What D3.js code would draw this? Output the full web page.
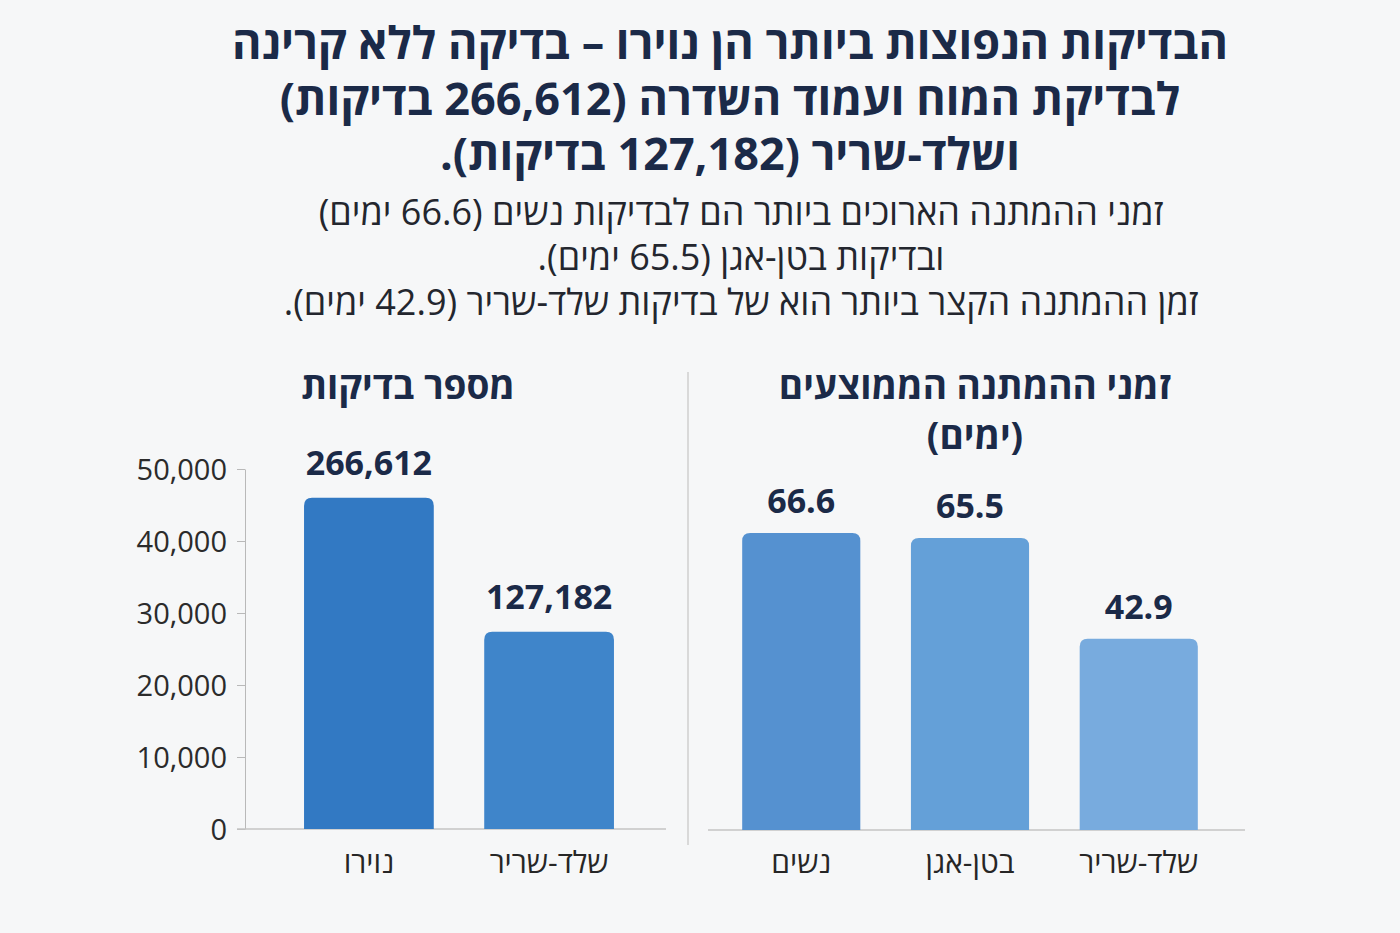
<!DOCTYPE html>
<html>
<head>
<meta charset="utf-8">
<script src="https://cdn.jsdelivr.net/npm/d3@7"></script>
<style>
  body { margin: 0; background: #f6f7f8; }
  svg { display: block; font-family: "Open Sans", "DejaVu Sans", sans-serif; }
  .he { direction: rtl; unicode-bidi: embed; }
  .axis text { font-size: 29px; font-weight: 500; fill: #2b2b2b; font-family: "Open Sans", sans-serif; }
  .axis path, .axis line { stroke: #b9b9b9; }
</style>
</head>
<body>
<div id="chartCont"></div>
<script>
// title + subtitle lines
const titleLines = [
  "הבדיקות הנפוצות ביותר הן נוירו – בדיקה ללא קרינה",
  "לבדיקת המוח ועמוד השדרה (266,612 בדיקות)",
  "ושלד-שריר (127,182 בדיקות)."
];
const subLines = [
  "זמני ההמתנה הארוכים ביותר הם לבדיקות נשים (66.6 ימים)",
  "ובדיקות בטן-אגן (65.5 ימים).",
  "זמן ההמתנה הקצר ביותר הוא של בדיקות שלד-שריר (42.9 ימים)."
];

// left panel: number of tests (bar heights as drawn on the axis, labels as printed)
const countCats = ["נוירו", "שלד-שריר"];
const countBars = [46000, 27400];
const countLabels = ["266,612", "127,182"];
const countTicks = [0, 10000, 20000, 30000, 40000, 50000];

// right panel: average waiting times (days)
const waitCats = ["נשים", "בטן-אגן", "שלד-שריר"];
const waitDays = [66.6, 65.5, 42.9];

let width = 1400,
  height = 933;

let svg = d3.select("#chartCont")
  .append("svg")
  .attr("width", width)
  .attr("height", height);

const navy = "#1b2a48";

svg.selectAll(".title")
  .data(titleLines)
  .enter().append("text")
  .attr("class", "title he")
  .attr("x", 730)
  .attr("y", (d, i) => 59 + i * 55.5)
  .attr("text-anchor", "middle")
  .style("font-size", "45px")
  .style("font-weight", 700)
  .style("fill", navy)
  .text(d => d);

svg.selectAll(".sub")
  .data(subLines)
  .enter().append("text")
  .attr("class", "sub he")
  .attr("x", 741)
  .attr("y", (d, i) => 225 + i * 45)
  .attr("text-anchor", "middle")
  .style("font-size", "36px")
  .style("font-weight", 500)
  .style("fill", "#23262e")
  .text(d => d);

// bar with rounded top corners
function topRounded(x, y, w, h, r) {
  r = Math.min(r, h, w / 2);
  return "M" + x + "," + (y + h) +
    "V" + (y + r) +
    "Q" + x + "," + y + " " + (x + r) + "," + y +
    "H" + (x + w - r) +
    "Q" + (x + w) + "," + y + " " + (x + w) + "," + (y + r) +
    "V" + (y + h) + "Z";
}

// ---------- left panel ----------
let xCount = d3.scaleBand().domain(countCats).range([268, 650]).paddingInner(0.28).paddingOuter(0.2);
let yCount = d3.scaleLinear().domain([0, 50000]).range([829, 469]);
const countColors = ["#3279c3", "#3f85ca"];

svg.append("text")
  .attr("class", "he")
  .attr("x", 408).attr("y", 399)
  .attr("text-anchor", "middle")
  .style("font-size", "37px").style("font-weight", 700).style("fill", navy)
  .text("מספר בדיקות");

svg.append("g")
  .attr("class", "axis")
  .attr("transform", "translate(245,0)")
  .call(d3.axisLeft(yCount).tickValues(countTicks).tickFormat(d3.format(",")).tickSize(8).tickSizeOuter(0).tickPadding(10))
  .call(g => g.selectAll("text").attr("dy", "0.36em"));

svg.append("line")
  .attr("x1", 237).attr("x2", 666)
  .attr("y1", yCount(0)).attr("y2", yCount(0))
  .attr("stroke", "#c4c4c4").attr("stroke-width", 1.5);

svg.selectAll(".cbar")
  .data(countBars)
  .enter().append("path")
  .attr("class", "cbar")
  .attr("fill", (d, i) => countColors[i])
  .attr("d", (d, i) => topRounded(xCount(countCats[i]), yCount(d), xCount.bandwidth(), yCount(0) - yCount(d), 8));

svg.selectAll(".clabel")
  .data(countBars)
  .enter().append("text")
  .attr("x", (d, i) => xCount(countCats[i]) + xCount.bandwidth() / 2)
  .attr("y", d => yCount(d) - 23)
  .attr("text-anchor", "middle")
  .style("font-size", "34px").style("font-weight", 700).style("fill", navy)
  .text((d, i) => countLabels[i]);

svg.selectAll(".ccat")
  .data(countCats)
  .enter().append("text")
  .attr("class", "he")
  .attr("x", d => xCount(d) + xCount.bandwidth() / 2)
  .attr("y", 873)
  .attr("text-anchor", "middle")
  .style("font-size", "30px").style("font-weight", 500).style("fill", "#262626")
  .text(d => d);

// divider
svg.append("line")
  .attr("x1", 688).attr("x2", 688)
  .attr("y1", 372).attr("y2", 845)
  .attr("stroke", "#cfcfcf").attr("stroke-width", 1.5);

// ---------- right panel ----------
let xWait = d3.scaleBand().domain(waitCats).range([700, 1240]).paddingInner(0.3).paddingOuter(0.25);
let yWait = d3.scaleLinear().domain([0, 74]).range([830, 500]);
const waitColors = ["#5591d0", "#64a0d8", "#78abde"];

svg.selectAll(".wtitle")
  .data(["זמני ההמתנה הממוצעים", "(ימים)"])
  .enter().append("text")
  .attr("class", "he")
  .attr("x", 975)
  .attr("y", (d, i) => 399 + i * 50)
  .attr("text-anchor", "middle")
  .style("font-size", "37px").style("font-weight", 700).style("fill", navy)
  .text(d => d);

svg.append("line")
  .attr("x1", 708).attr("x2", 1245)
  .attr("y1", yWait(0)).attr("y2", yWait(0))
  .attr("stroke", "#c4c4c4").attr("stroke-width", 1.5);

svg.selectAll(".wbar")
  .data(waitDays)
  .enter().append("path")
  .attr("fill", (d, i) => waitColors[i])
  .attr("d", (d, i) => topRounded(xWait(waitCats[i]), yWait(d), xWait.bandwidth(), yWait(0) - yWait(d), 8));

svg.selectAll(".wlabel")
  .data(waitDays)
  .enter().append("text")
  .attr("x", (d, i) => xWait(waitCats[i]) + xWait.bandwidth() / 2)
  .attr("y", d => yWait(d) - 20)
  .attr("text-anchor", "middle")
  .style("font-size", "34px").style("font-weight", 700).style("fill", navy)
  .text(d => d3.format(".1f")(d));

svg.selectAll(".wcat")
  .data(waitCats)
  .enter().append("text")
  .attr("class", "he")
  .attr("x", d => xWait(d) + xWait.bandwidth() / 2)
  .attr("y", 873)
  .attr("text-anchor", "middle")
  .style("font-size", "30px").style("font-weight", 500).style("fill", "#262626")
  .text(d => d);
</script>
</body>
</html>
